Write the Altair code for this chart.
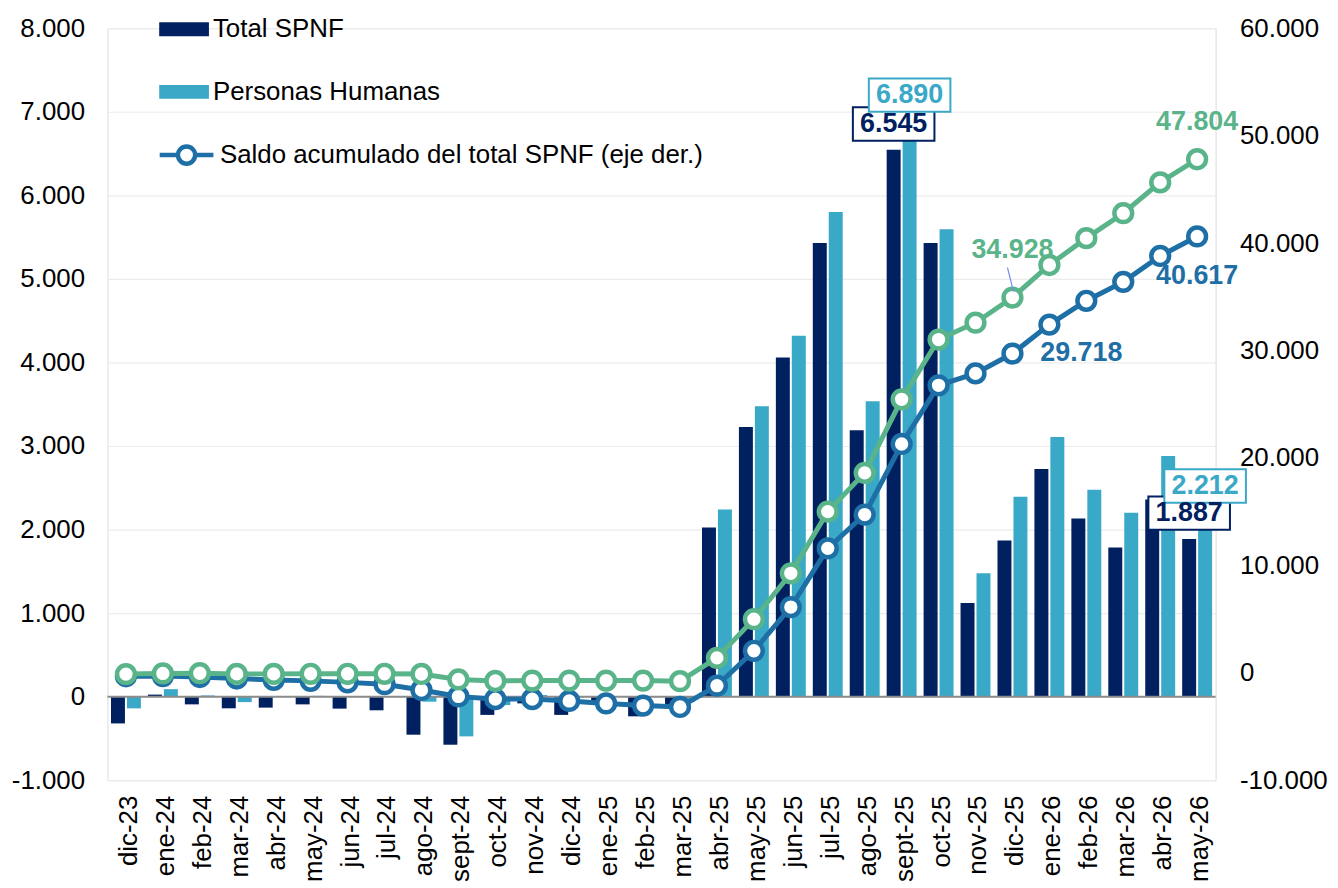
import altair as alt
import pandas as pd

FONT = "Liberation Sans"
NAVY = "#002060"
LIGHT = "#3AA8C7"
BLUE = "#1F6FA7"
GREEN = "#5AB48A"
SALDO = "Saldo acumulado del total SPNF (eje der.)"

months = ["dic-23", "ene-24", "feb-24", "mar-24", "abr-24", "may-24", "jun-24", "jul-24",
          "ago-24", "sept-24", "oct-24", "nov-24", "dic-24", "ene-25", "feb-25", "mar-25",
          "abr-25", "may-25", "jun-25", "jul-25", "ago-25", "sept-25", "oct-25", "nov-25",
          "dic-25", "ene-26", "feb-26", "mar-26", "abr-26", "may-26"]

total_spnf = [-320, 25, -92, -139, -131, -92, -143, -163, -455, -575, -218, -80, -218, -100,
              -235, -140, 2024, 3226, 4060, 5430, 3190, 6545, 5430, 1120, 1870, 2726, 2131,
              1786, 2360, 1887]
personas = [-140, 90, 15, -65, 5, 10, 5, 0, -60, -475, -100, 20, -10, 0, -5, -60, 2240, 3476,
            4321, 5800, 3536, 6890, 5595, 1476, 2393, 3107, 2476, 2202, 2880, 2212]

saldo_total = [-320, -300, -390, -530, -660, -750, -890, -1060, -1600, -2200, -2450, -2450,
               -2620, -2850, -3050, -3180, -1200, 2050, 6120, 11580, 14730, 21300, 26760,
               27870, 29718, 32410, 34630, 36390, 38800, 40617]
saldo_personas = [-120, -60, -40, -100, -100, -90, -90, -90, -110, -620, -760, -720, -720,
                  -720, -720, -780, 1390, 4990, 9260, 15000, 18610, 25460, 31020, 32590,
                  34928, 37960, 40460, 42780, 45650, 47804]

bar_series = ["Total SPNF", "Personas Humanas"]


def fmt(v):
    s = f"{abs(v):,.0f}".replace(",", ".")
    return ("-" if v < 0 else "") + s


bars_df = pd.DataFrame({
    "month": months * 2,
    "series": [bar_series[0]] * len(months) + [bar_series[1]] * len(months),
    "value": total_spnf + personas,
})
bars_df["label"] = bars_df["value"].map(fmt)

lines_df = pd.DataFrame({
    "month": months,
    "saldo_total": saldo_total,
    "saldo_personas": saldo_personas,
    "series": SALDO,
})
lines_df["lab_total"] = lines_df["saldo_total"].map(fmt)
lines_df["lab_personas"] = lines_df["saldo_personas"].map(fmt)

label_expr = "(datum.value < 0 ? '-' : '') + replace(format(abs(datum.value), ',.0f'), ',', '.')"

x_axis = alt.Axis(labelAngle=-90, labelFontSize=26, labelFont=FONT, labelColor="#000000",
                  domain=False, ticks=False, labelPadding=15, labelOffset=3, grid=False,
                  title=None)
X = alt.X("month:N", scale=alt.Scale(domain=months, paddingInner=0.19, paddingOuter=0.095),
          axis=x_axis)

left_axis = alt.Axis(values=list(range(-1000, 8001, 1000)), labelExpr=label_expr, grid=True,
                     gridColor="#ECECEC", gridWidth=1.2, domain=False, ticks=False,
                     labelPadding=23, labelFontSize=26, labelFont=FONT, labelColor="#000000",
                     title=None, orient="left")
right_axis = alt.Axis(values=list(range(-10000, 60001, 10000)), labelExpr=label_expr,
                      grid=False, domain=False, ticks=False, labelPadding=24,
                      labelFontSize=26, labelFont=FONT, labelColor="#000000", title=None,
                      orient="right")
ly = alt.Scale(domain=[-1000, 8000], nice=False, zero=False)
ry = alt.Scale(domain=[-10000, 60000], nice=False, zero=False)

XO = alt.XOffset("series:N", sort=bar_series,
                 scale=alt.Scale(domain=bar_series, paddingInner=0.125, paddingOuter=0))

fill_legend = alt.Legend(title=None, orient="none", legendX=52, legendY=-24,
                         symbolType="M-1,-0.28H1V0.28H-1Z", symbolSize=2500,
                         symbolStrokeWidth=0, labelFontSize=26, labelFont=FONT,
                         labelColor="#000000", rowPadding=25, padding=0, labelOffset=4,
                         labelLimit=700)
line_legend = alt.Legend(title=None, orient="none", legendX=50, legendY=98,
                         symbolType="M-1,0H-0.32M0.32,0H1M-0.32,0A0.32,0.32 0 1,0 0.32,0A0.32,0.32 0 1,0 -0.32,0Z",
                         symbolSize=2916, symbolStrokeWidth=4.5, symbolFillColor="#ffffff",
                         labelFontSize=26, labelFont=FONT, labelColor="#000000", padding=0,
                         labelOffset=4, labelLimit=700)

base_bars = alt.Chart(bars_df)
bars = base_bars.mark_bar().encode(
    x=X, xOffset=XO,
    y=alt.Y("value:Q", scale=ly, axis=left_axis),
    fill=alt.Fill("series:N", scale=alt.Scale(domain=bar_series, range=[NAVY, LIGHT]),
                  legend=fill_legend),
)
zero = alt.Chart(alt.Data(values=[{}])).mark_rule(color="#8C8C8C", strokeWidth=2).encode(
    y=alt.YDatum(0, type="quantitative", scale=ly, axis=left_axis)
)
BOX = "M-1,-0.41H1V0.41H-1Z"
sel = base_bars.transform_filter(alt.FieldOneOfPredicate(field="month", oneOf=["sept-25", "may-26"]))
boxes = sel.mark_point(shape=BOX, size=6724, filled=True, fill="#ffffff", strokeWidth=2,
                       opacity=1, yOffset=-26).encode(
    x=X, xOffset=XO,
    y=alt.Y("value:Q", scale=ly, axis=left_axis),
    stroke=alt.condition("datum.series == 'Total SPNF'", alt.value(NAVY), alt.value(LIGHT)),
)
box_text = sel.mark_text(fontSize=27, fontWeight="bold", font=FONT, dy=-26,
                         baseline="middle", align="center").encode(
    x=X, xOffset=XO,
    y=alt.Y("value:Q", scale=ly, axis=left_axis),
    text="label:N",
    color=alt.condition("datum.series == 'Total SPNF'", alt.value(NAVY), alt.value(LIGHT)),
)
left = alt.layer(bars, zero, boxes, box_text)

base_l = alt.Chart(lines_df)
YT = alt.Y("saldo_total:Q", scale=ry, axis=right_axis)
YP = alt.Y("saldo_personas:Q", scale=ry, axis=right_axis)
blue_line = base_l.mark_line(strokeWidth=5).encode(
    x=X, y=YT,
    stroke=alt.Stroke("series:N", scale=alt.Scale(domain=[SALDO], range=[BLUE]),
                      legend=line_legend),
)
blue_pts = base_l.mark_point(filled=True, fill="#ffffff", stroke=BLUE, strokeWidth=4.5,
                             size=320, opacity=1).encode(x=X, y=YT)
green_line = base_l.mark_line(strokeWidth=5, color=GREEN).encode(x=X, y=YP)
green_pts = base_l.mark_point(filled=True, fill="#ffffff", stroke=GREEN, strokeWidth=4.5,
                              size=320, opacity=1).encode(x=X, y=YP)

lab_style = dict(fontSize=27, fontWeight="bold", font=FONT, baseline="middle")
g_end = base_l.transform_filter(alt.datum.month == "may-26").mark_text(
    color=GREEN, dy=-37, align="center", **lab_style).encode(x=X, y=YP, text="lab_personas:N")
g_mid = base_l.transform_filter(alt.datum.month == "dic-25").mark_text(
    color=GREEN, dy=-48, align="center", **lab_style).encode(x=X, y=YP, text="lab_personas:N")
leader = base_l.transform_filter(alt.datum.month == "dic-25").mark_rule(
    color="#6E8EF0", strokeWidth=1.2, xOffset=-5, x2Offset=1, yOffset=-30, y2Offset=-6).encode(
    x=X, x2="month:N", y=YP, y2="saldo_personas:Q")
b_end = base_l.transform_filter(alt.datum.month == "may-26").mark_text(
    color=BLUE, dy=40, align="center", **lab_style).encode(x=X, y=YT, text="lab_total:N")
b_mid = base_l.transform_filter(alt.datum.month == "dic-25").mark_text(
    color=BLUE, dx=28, align="left", **lab_style).encode(x=X, y=YT, text="lab_total:N")

right = alt.layer(blue_line, blue_pts, green_line, green_pts, leader, g_end, g_mid, b_end, b_mid)

chart = alt.layer(left, right).resolve_scale(y="independent").properties(
    width=1114, height=756,
    padding={"left": 100, "top": 18, "right": 115, "bottom": 104},
    autosize=alt.AutoSizeParams(type="none"),
).configure_view(stroke=None).configure(background="#ffffff")

chart.save("out.html", embed_options={"renderer": "svg", "actions": False})
